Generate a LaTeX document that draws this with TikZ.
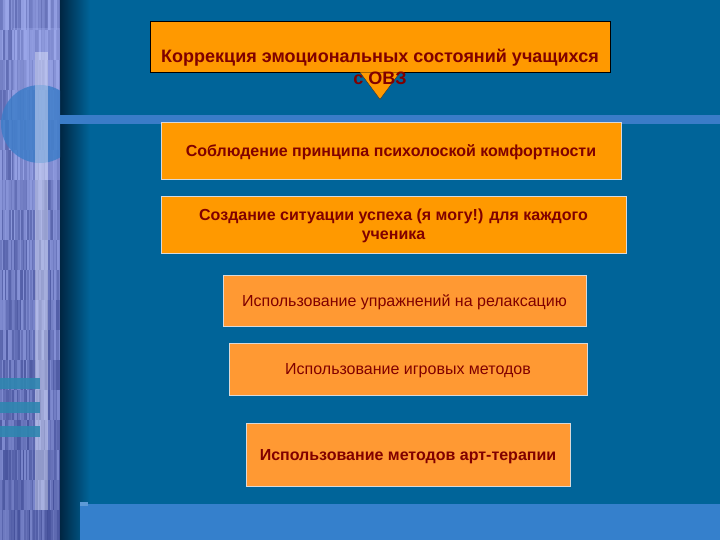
\documentclass[tikz,border=0pt]{standalone}
\usepackage{fontspec}
\setmainfont{Liberation Sans}
\definecolor{slidebg}{RGB}{0,100,153}
\definecolor{barblue}{RGB}{53,128,204}
\definecolor{lineblue}{RGB}{58,124,200}
\definecolor{boxorange}{RGB}{255,153,0}
\definecolor{boxlight}{RGB}{255,153,51}
\definecolor{textred}{RGB}{128,0,0}
\definecolor{stripnavy}{RGB}{40,52,128}
\definecolor{striplav}{RGB}{160,172,238}
\definecolor{stripteal}{RGB}{47,134,176}
\definecolor{edgedark}{RGB}{0,38,66}
\newcommand{\boxfont}{\fontsize{16}{19}\selectfont}

\begin{document}
\begin{tikzpicture}[x=1pt,y=-1pt,
    headbox/.style={draw=black,line width=0.8pt,fill=boxorange,inner sep=0pt},
    itembox/.style={draw=white!85!black,line width=0.8pt,fill=boxorange,inner sep=0pt,
                    text=textred,font=\boxfont\bfseries,align=center,text depth=0pt},
    lightbox/.style={itembox,fill=boxlight,font=\boxfont}]
      \useasboundingbox (0,0) rectangle (720,540);
      % slide background
      \fill[slidebg] (0,0) rectangle (720,540);
      \shade[left color=edgedark,right color=slidebg] (60,0) rectangle (90,540);
      % textured strip on the left
      \pgfmathsetseed{17}
      \foreach \sx in {0,1.5,...,58.5}
        \foreach \sy in {0,30,...,510}
        {
          \pgfmathsetmacro\mixval{int(5+45*rnd+30*\sy/540)}
          \fill[stripnavy!\mixval!striplav] (\sx,\sy) rectangle ++(1.6,30);
        }
      \fill[striplav,opacity=0.35] (13,28) rectangle (60,180);
      \begin{scope}
        \clip (0,0) rectangle (60,540);
        \fill[lineblue,opacity=0.8] (40,124) circle(39);
      \end{scope}
      \fill[white!70!striplav,opacity=0.45] (35,52) rectangle (48,510);
      \foreach \by in {378,402,426}
        \fill[stripteal,opacity=0.9] (0,\by) rectangle (40,\by+11);
      % bands
      \fill[lineblue] (60,115) rectangle (720,124);
      \fill[barblue] (80,504) rectangle (720,540);
      \fill[barblue!80!white] (80,502) rectangle (88,506);
      % boxes
      \node[headbox,minimum width=460pt,minimum height=51pt] (head) at (380,46.5) {};
      \filldraw[fill=boxorange,draw=black!80] (head.south) ++(-20,0) -- ++(20,27) -- ++(20,-27);
      \node[text=textred,font=\fontsize{18}{22}\selectfont\bfseries,align=center,inner sep=0pt]
        (headtext) at (380,67) {Коррекция эмоциональных состояний учащихся\\с ОВЗ};
      \node[itembox,minimum width=460pt,minimum height=57pt] (comfort) at (391,150.5)
        {Соблюдение принципа психолоской комфортности};
      \node[itembox,minimum width=465pt,minimum height=57pt] (success) at (393.5,224.5)
        {Создание ситуации успеха (я могу!) для каждого\\ученика};
      \node[lightbox,minimum width=363pt,minimum height=51pt] (relax) at (404.5,300.5)
        {Использование упражнений на релаксацию};
      \node[lightbox,minimum width=358pt,minimum height=52pt] (games) at (408,369)
        {Использование игровых методов};
      \node[lightbox,font=\boxfont\bfseries,minimum width=324pt,minimum height=63pt] (arttherapy) at (408,454.5)
        {Использование методов арт-терапии};
\end{tikzpicture}
\end{document}
